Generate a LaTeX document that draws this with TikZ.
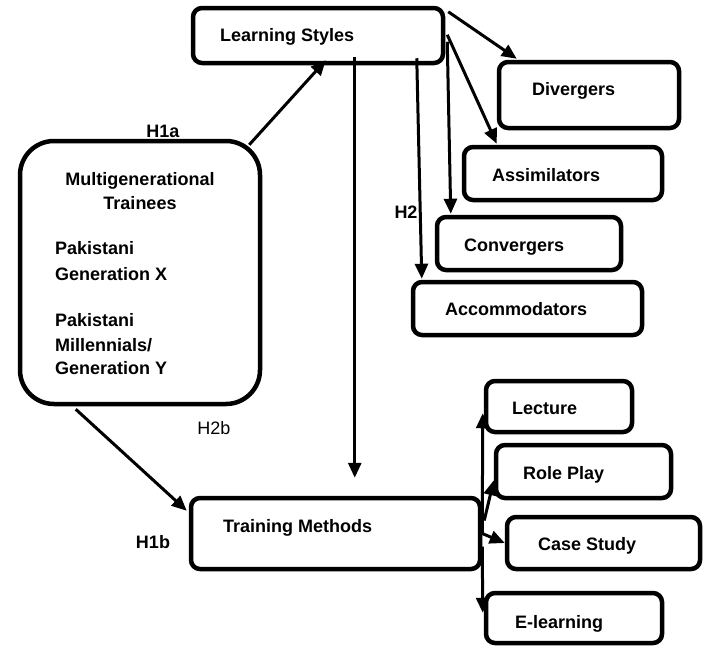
\documentclass[tikz,border=0pt]{standalone}
\usepackage{fontspec}
\setmainfont{Liberation Sans}
\usetikzlibrary{arrows.meta,calc}
\begin{document}
\begin{tikzpicture}[x=1pt,y=-1pt,
  box/.style={draw,line width=4.5pt,rounded corners=9pt,inner sep=0pt},
  txt/.style={anchor=base west,inner sep=0pt,font=\fontsize{18}{25}\selectfont\bfseries},
  hlab/.style={anchor=base,inner sep=0pt,font=\fontsize{18}{25}\selectfont\bfseries},
  arr/.style={line width=3pt,-{Triangle[length=15pt,width=13pt]}}]
\useasboundingbox (0,0) rectangle (706,646);
% boxes
\node (ls)  [box,minimum width=250,minimum height=55] at (318,35.5) {};
\node (div) [box,minimum width=180,minimum height=66] at (589,95) {};
\node (asm) [box,minimum width=198,minimum height=53] at (563,173.5) {};
\node (con) [box,minimum width=184,minimum height=53] at (529,243.5) {};
\node (acc) [box,minimum width=229,minimum height=53] at (527.5,308.5) {};
\node (mg)  [box,rounded corners=34pt,minimum width=240,minimum height=263] at (140,272.5) {};
\node (tm)  [box,minimum width=289,minimum height=71] at (335.5,533.5) {};
\node (lec) [box,minimum width=146,minimum height=51] at (559,406.5) {};
\node (rp)  [box,minimum width=175,minimum height=53] at (583.5,471.5) {};
\node (cs)  [box,minimum width=193,minimum height=52] at (603.5,543) {};
\node (el)  [box,minimum width=176,minimum height=50] at (574,618) {};
% texts
\node (lst)  [txt] at (220,41.5) {Learning Styles};
\node (divt) [txt] at (532,95.5) {Divergers};
\node (asmt) [txt] at (492,181.5) {Assimilators};
\node (cont) [txt] at (464,251.5) {Convergers};
\node (acct) [txt] at (445,315.5) {Accommodators};
\node (tmt)  [txt] at (223,532.5) {Training Methods};
\node (lect) [txt] at (512,414.5) {Lecture};
\node (rpt)  [txt] at (523,479.5) {Role Play};
\node (cst)  [txt] at (538,550.5) {Case Study};
\node (elt)  [txt] at (515,628.5) {E-learning};
\node (mgt1) [hlab] at (140,185.5) {Multigenerational};
\node (mgt2) [hlab] at (140,209.5) {Trainees};
\node (mgt3) [txt] at (55,254.5) {Pakistani};
\node (mgt4) [txt] at (55,280.5) {Generation X};
\node (mgt5) [txt] at (55,326.5) {Pakistani};
\node (mgt6) [txt] at (55,351.5) {Millennials/};
\node (mgt7) [txt] at (55,374.5) {Generation Y};
% hypothesis labels
\node (h1a) [hlab] at (163,137.5) {H1a};
\node (h2)  [hlab] at (406,218.5) {H2};
\node (h2b) [hlab,font=\fontsize{18}{25}\selectfont] at (214,434.5) {H2b};
\node (h1b) [hlab] at (153,548.5) {H1b};
% connectors
\draw[arr] ($(mg.north east)+(-13,6)$) -- ($(ls.south west)+(135,-5)$);
\draw[arr] ($(ls.north east)+(3,6)$) -- ($(div.north west)+(20,-1)$);
\draw[arr] ($(ls.north east)+(2,29)$) -- ($(asm.north west)+(35,-1)$);
\draw[arr] ($(ls.north east)+(2,36)$) -- ($(con.north west)+(16,-1)$);
\draw[arr] ($(ls.south west)+(226,-7)$) -- ($(acc.north west)+(11,-1)$);
\draw[arr] ($(ls.south west)+(164,-8)$) -- ($(tm.north west)+(166,-18)$);
\draw[arr] ($(mg.south west)+(58,3)$) -- ($(tm.north west)+(-2,15)$);
\draw[arr] ($(tm.east)+(0,0)$) -- ($(lec.south west)+(-1,-21)$);
\draw[arr] ($(tm.east)+(2,-13)$) -- ($(rp.south west)+(0,-20)$);
\draw[arr] ($(tm.east)+(0,0)$) -- ($(cs.west)+(0,0)$);
\draw[arr] ($(tm.east)+(0,13)$) -- ($(el.north west)+(-1,22)$);
\end{tikzpicture}
\end{document}
